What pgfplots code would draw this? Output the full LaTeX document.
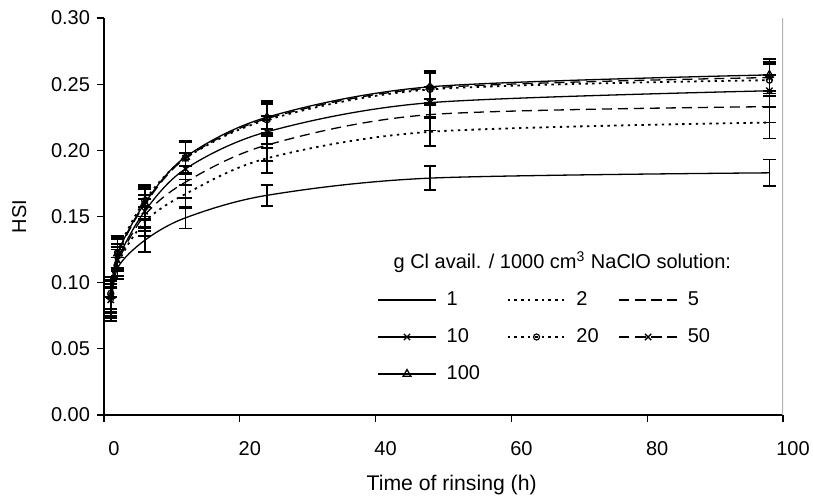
\documentclass[border=0pt]{standalone}
\usepackage{fontspec}
\setmainfont{Liberation Sans}
\usepackage{pgfplots}
\pgfplotsset{compat=1.18}
\usepackage{pgfplotstable}

\newcommand{\fs}{\fontsize{10}{12}\selectfont}

% time (h), HSI, error
\pgfplotstableread{
t v e
1 0.080 0.009
2 0.111 0.008
6 0.132 0.009
12 0.149 0.008
24 0.166 0.008
48 0.179 0.009
98 0.183 0.010
}\sone
\pgfplotstableread{
t v e
1 0.085 0.011
2 0.114 0.011
6 0.146 0.011
12 0.167 0.011
24 0.194 0.011
48 0.214 0.011
98 0.221 0.012
}\stwo
\pgfplotstableread{
t v e
1 0.085 0.012
2 0.115 0.012
6 0.151 0.012
12 0.176 0.012
24 0.204 0.012
48 0.227 0.012
98 0.233 0.012
}\sfive
\pgfplotstableread{
t v e
1 0.087 0.012
2 0.117 0.012
6 0.154 0.012
12 0.186 0.012
24 0.214 0.012
48 0.236 0.012
98 0.245 0.012
}\sten
\pgfplotstableread{
t v e
1 0.092 0.012
2 0.123 0.012
6 0.162 0.012
12 0.194 0.012
24 0.223 0.012
48 0.246 0.012
98 0.253 0.012
}\stwenty
\pgfplotstableread{
t v e
1 0.089 0.012
2 0.121 0.012
6 0.159 0.012
12 0.194 0.012
24 0.224 0.012
48 0.247 0.012
98 0.255 0.012
}\sfifty
\pgfplotstableread{
t v e
1 0.090 0.012
2 0.122 0.012
6 0.160 0.012
12 0.195 0.012
24 0.225 0.012
48 0.248 0.012
98 0.257 0.012
}\shundred

\begin{document}
\begin{tikzpicture}
\begin{axis}[
  width=339.5pt, height=198.5pt, scale only axis,
  xmin=0, xmax=100, ymin=0, ymax=0.30,
  xtick={0,20,...,100}, ytick={0,0.05,0.10,0.15,0.20,0.25,0.30},
  axis lines*=left,
  axis line style={-, line width=0.6pt},
  tick align=outside, major tick length=3.5pt,
  tick style={black, line width=0.6pt},
  scaled y ticks=false,
  /pgf/number format/assume math mode=true,
  yticklabel style={/pgf/number format/fixed, /pgf/number format/fixed zerofill,
                    /pgf/number format/precision=2},
  xticklabel style={xshift=5pt, yshift=-6pt},
  tick label style={font=\fs},
  label style={font=\fs},
  xlabel={Time of rinsing (h)},
  ylabel={HSI},
  xlabel style={at={(axis description cs:0.512,-0.176)}, anchor=center,
                font=\fontsize{10.6}{12}\selectfont},
  ylabel style={at={(axis description cs:-0.125,0.5)}, anchor=center},
  error bars/error bar style={solid, black, line width=0.9pt},
  error bars/error mark options={solid, black, rotate=90, line width=0.9pt, mark size=3.2pt},
  eb/.style={error bars/.cd, y dir=both, y explicit},
  every axis plot/.append style={black, line width=0.65pt, smooth, tension=0.5},
  legend columns=3,
  legend cell align=left,
  legend style={draw=none, fill=none, at={(0.402,0.322)}, anchor=north west,
                inner sep=0pt, row sep=6pt, font=\fs,
                /tikz/every odd column/.append style={column sep=3pt},
                /tikz/every even column/.append style={column sep=8pt}},
  legend image code/.code={\draw[mark repeat=2,mark phase=2,#1]
     plot coordinates {(0pt,0pt) (14.5pt,0pt) (29pt,0pt)};},
]
  \draw[gray!60, line width=0.8pt] (rel axis cs:1,0) -- (rel axis cs:1,1);

  \addplot[no marks, eb] table[x=t, y=v, y error=e] {\sone};
  \addlegendentry{\makebox[20pt][l]{1}}
  \addplot[no marks, dash pattern=on 1.2pt off 2.2pt, line width=0.9pt, eb]
    table[x=t, y=v, y error=e] {\stwo};
  \addlegendentry{\makebox[11pt][l]{2}}
  \addplot[no marks, dash pattern=on 5pt off 3pt, eb]
    table[x=t, y=v, y error=e] {\sfive};
  \addlegendentry{\makebox[20pt][l]{5}}
  \addplot[mark=x, mark size=2.2pt, mark options={solid}, eb]
    table[x=t, y=v, y error=e] {\sten};
  \addlegendentry{\makebox[20pt][l]{10}}
  \addplot[mark=o, mark size=1.5pt, mark options={solid, line width=0.6pt},
           dash pattern=on 1.2pt off 2.2pt, line width=0.9pt, eb]
    table[x=t, y=v, y error=e] {\stwenty};
  \addlegendentry{\makebox[11pt][l]{20}}
  \addplot[mark=x, mark size=2.2pt, mark options={solid}, dash pattern=on 5pt off 3pt, eb]
    table[x=t, y=v, y error=e] {\sfifty};
  \addlegendentry{\makebox[20pt][l]{50}}
  \addplot[mark=triangle, mark size=2.2pt, mark options={solid}, eb]
    table[x=t, y=v, y error=e] {\shundred};
  \addlegendentry{\makebox[20pt][l]{100}}

  \node[font=\fs] at (axis cs:67.5,0.1156)
    {g Cl avail. / 1000 cm\textsuperscript{3} NaClO solution:};
\end{axis}
\pgfresetboundingbox
\path[use as bounding box] ([shift={(-52pt,-42pt)}]current axis.south west)
  rectangle ([shift={(15pt,9pt)}]current axis.north east);
\end{tikzpicture}
\end{document}
